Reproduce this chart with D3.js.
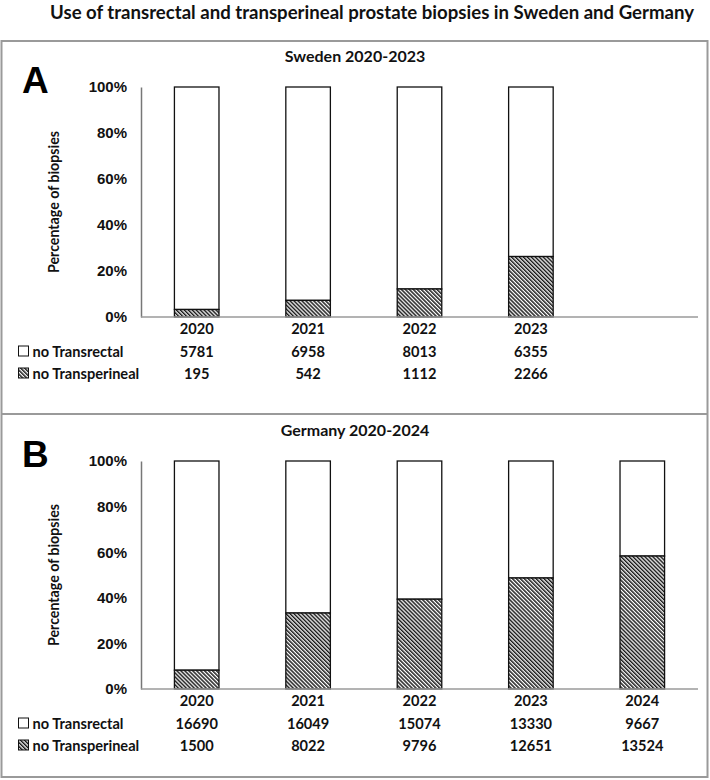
<!DOCTYPE html>
<html>
<head>
<meta charset="utf-8">
<script src="https://cdn.jsdelivr.net/npm/d3@7"></script>
<style>
  body { margin: 0; background: #fff; }
  svg { display: block; font-family: Lato, "Open Sans", sans-serif; font-weight: bold; }
</style>
</head>
<body>
<div id="chart"></div>
<script>
// dados
const yearsSweden = ["2020", "2021", "2022", "2023"];
const yearsGermany = ["2020", "2021", "2022", "2023", "2024"];
const swedenTransrectal = [5781, 6958, 8013, 6355];
const swedenTransperineal = [195, 542, 1112, 2266];
const germanyTransrectal = [16690, 16049, 15074, 13330, 9667];
const germanyTransperineal = [1500, 8022, 9796, 12651, 13524];
const yTicks = [0, 20, 40, 60, 80, 100];
const seriesNames = ["no Transrectal", "no Transperineal"];

const width = 710, height = 780;

const svg = d3.select("#chart").append("svg")
    .attr("width", width)
    .attr("height", height);

// padrão hachurado
const defs = svg.append("defs");
const pat = defs.append("pattern")
    .attr("id", "hatch")
    .attr("patternUnits", "userSpaceOnUse")
    .attr("width", 2.8)
    .attr("height", 2.8)
    .attr("patternTransform", "rotate(-45)");
pat.append("rect").attr("width", 2.8).attr("height", 2.8).attr("fill", "#fff");
pat.append("rect").attr("width", 1.5).attr("height", 2.8).attr("fill", "#1a1a1a");

svg.append("text")
    .attr("x", 372)
    .attr("y", 19)
    .attr("text-anchor", "middle")
    .style("font-size", "18.6px")
    .attr("fill", "#111")
    .text("Use of transrectal and transperineal prostate biopsies in Sweden and Germany");

// moldura externa
svg.append("rect")
    .attr("x", 1.5).attr("y", 41)
    .attr("width", 706).attr("height", 736)
    .attr("fill", "none")
    .attr("stroke", "#9a9a9a")
    .attr("stroke-width", 2);

svg.append("line")
    .attr("x1", 1.5).attr("x2", 707.5)
    .attr("y1", 414).attr("y2", 414)
    .attr("stroke", "#9a9a9a")
    .attr("stroke-width", 2);

function renderPanel(opts) {
    const { letter, title, top, bottom, years, transrectal, transperineal } = opts;
    const left = 141, right = 698;
    const g = svg.append("g");

    const xScale = d3.scaleBand()
        .domain(yearsGermany)
        .range([left, right])
        .paddingInner(0.6)
        .paddingOuter(0.3);

    const yScale = d3.scaleLinear()
        .domain([0, 100])
        .range([bottom, top]);

    g.append("text")
        .attr("x", 355).attr("y", top - 25)
        .attr("text-anchor", "middle")
        .style("font-size", "16px")
        .attr("fill", "#111")
        .text(title);

    g.append("text")
        .attr("x", 22).attr("y", top + 6)
        .style("font-size", "37px")
        .style("font-family", "Liberation Sans, Arial, sans-serif")
        .attr("fill", "#000")
        .text(letter);

    const yAxis = d3.axisLeft(yScale)
        .tickValues(yTicks)
        .tickFormat(d => `${d}%`)
        .tickSize(0)
        .tickPadding(14);

    const ya = g.append("g")
        .attr("transform", `translate(${left},0)`)
        .call(yAxis);
    ya.select(".domain").attr("stroke", "#777").attr("stroke-width", 1.5);
    ya.selectAll("text")
        .attr("fill", "#111")
        .style("font-size", "15px")
        .style("font-family", "inherit");

    g.append("text")
        .attr("transform", `translate(59,${(top + bottom) / 2}) rotate(-90)`)
        .attr("text-anchor", "middle")
        .style("font-size", "14.2px")
        .attr("fill", "#111")
        .text("Percentage of biopsies");

    const data = years.map((y, i) => {
        const total = transrectal[i] + transperineal[i];
        return { year: y, tr: transrectal[i], tp: transperineal[i], pct: transperineal[i] / total * 100 };
    });

    // parte branca (transretal)
    g.selectAll(".bar-tr")
        .data(data)
        .enter()
        .append("rect")
        .attr("class", "bar-tr")
        .attr("x", d => xScale(d.year))
        .attr("width", xScale.bandwidth())
        .attr("y", yScale(100))
        .attr("height", d => yScale(d.pct) - yScale(100))
        .attr("fill", "#fff")
        .attr("stroke", "#111")
        .attr("stroke-width", 1.3);

    // parte hachurada (transperineal)
    g.selectAll(".bar-tp")
        .data(data)
        .enter()
        .append("rect")
        .attr("class", "bar-tp")
        .attr("x", d => xScale(d.year))
        .attr("width", xScale.bandwidth())
        .attr("y", d => yScale(d.pct))
        .attr("height", d => yScale(0) - yScale(d.pct))
        .attr("fill", "url(#hatch)")
        .attr("stroke", "#111")
        .attr("stroke-width", 1.3);

    g.append("line")
        .attr("x1", left).attr("x2", right)
        .attr("y1", bottom).attr("y2", bottom)
        .attr("stroke", "#9a9a9a")
        .attr("stroke-width", 1.5);

    // tabela de dados
    const rows = [
        { y: bottom + 17, vals: years },
        { y: bottom + 40, vals: transrectal },
        { y: bottom + 62, vals: transperineal }
    ];
    rows.forEach(r => {
        g.selectAll(null)
            .data(r.vals)
            .enter()
            .append("text")
            .attr("x", (d, i) => xScale(years[i]) + xScale.bandwidth() / 2)
            .attr("y", r.y)
            .attr("text-anchor", "middle")
            .style("font-size", "14.6px")
            .attr("fill", "#111")
            .text(d => d);
    });

    seriesNames.forEach((name, i) => {
        const ry = rows[i + 1].y;
        g.append("rect")
            .attr("x", 18.5).attr("y", ry - 11)
            .attr("width", 10).attr("height", 10)
            .attr("fill", i === 0 ? "#fff" : "url(#hatch)")
            .attr("stroke", "#111")
            .attr("stroke-width", 1);
        g.append("text")
            .attr("x", 32.5).attr("y", ry)
            .style("font-size", "14.6px")
            .attr("fill", "#111")
            .text(name);
    });
}

renderPanel({
    letter: "A", title: "Sweden 2020-2023", top: 87, bottom: 317,
    years: yearsSweden, transrectal: swedenTransrectal, transperineal: swedenTransperineal
});

renderPanel({
    letter: "B", title: "Germany 2020-2024", top: 461, bottom: 689,
    years: yearsGermany, transrectal: germanyTransrectal, transperineal: germanyTransperineal
});
</script>
</body>
</html>
